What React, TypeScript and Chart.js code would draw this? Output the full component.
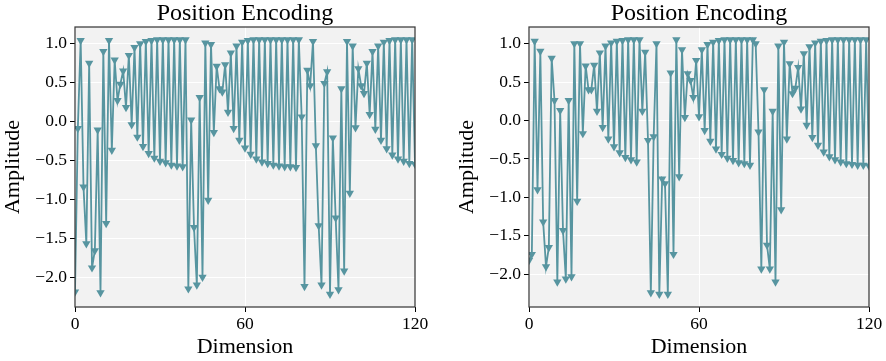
import React, { useEffect, useRef } from 'react';
import { Chart, registerables } from 'chart.js';

Chart.register(...registerables);

// ---------------- data ----------------
const dims: number[] = Array.from({ length: 121 }, (_, i) => i);

const leftAmplitude: number[] = [
  -2.19, -0.09, 1.04, -0.84, -1.57, 0.75, -1.88, -1.66, -0.11, -2.20,
  0.90, -1.31, 1.04, -0.37, 0.79, 0.27, 0.48, 0.65, 0.18, 0.85,
  -0.04, 0.95, -0.20, 1.00, -0.32, 1.03, -0.41, 1.04, -0.47, 1.05,
  -0.51, 1.05, -0.53, 1.05, -0.56, 1.05, -0.57, 1.05, -0.58, 1.05,
  -2.15, 0.02, -1.36, -2.10, 0.31, -2.00, 1.01, -1.01, 0.99, -0.14,
  0.71, 0.42, 0.38, 0.73, 0.12, 0.88, -0.09, 0.97, -0.24, 1.02,
  -0.34, 1.04, -0.42, 1.05, -0.48, 1.05, -0.52, 1.05, -0.54, 1.05,
  -0.56, 1.05, -0.57, 1.05, -0.58, 1.05, -0.58, 1.05, -0.59, 1.05,
  0.06, -2.12, 0.66, 0.46, 1.03, -0.31, -1.34, -2.10, 0.49, 0.64,
  -2.22, -0.21, -1.24, -2.16, 0.42, -1.92, 1.03, -0.92, 0.97, -0.08,
  0.68, 0.46, 0.36, 0.75, 0.09, 0.90, -0.10, 0.97, -0.24, 1.02,
  -0.35, 1.04, -0.43, 1.05, -0.48, 1.05, -0.51, 1.05, -0.54, 1.05,
  -0.55,
];

const rightAmplitude: number[] = [
  -1.82, -1.74, 1.03, -0.90, 0.90, -1.32, -1.90, -1.65, 0.81, 0.26,
  -2.10, 0.13, -1.43, -2.06, 0.26, -2.03, 1.00, -1.05, 1.00, -0.17,
  0.71, 0.40, 0.40, 0.72, 0.12, 0.88, -0.09, 0.97, -0.24, 1.01,
  -0.34, 1.03, -0.42, 1.04, -0.48, 1.05, -0.51, 1.05, -0.54, 1.05,
  0.12, 0.89, -0.26, -2.24, -0.21, 1.00, -2.26, -0.76, -0.82, -2.26,
  0.62, -1.74, 1.05, -0.73, 0.92, 0.04, 0.61, 0.52, 0.30, 0.78,
  0.05, 0.92, -0.13, 0.99, -0.27, 1.02, -0.37, 1.04, -0.44, 1.05,
  -0.49, 1.05, -0.52, 1.05, -0.55, 1.05, -0.56, 1.05, -0.58, 1.05,
  1.00, -0.15, -1.93, 0.40, -1.62, -1.93, 0.12, -2.10, 0.97, -1.16,
  1.02, -0.24, 0.74, 0.35, 0.42, 0.69, 0.15, 0.87, -0.06, 0.96,
  -0.22, 1.01, -0.32, 1.03, -0.41, 1.04, -0.47, 1.05, -0.51, 1.05,
  -0.54, 1.05, -0.56, 1.05, -0.57, 1.05, -0.58, 1.05, -0.58, 1.05,
  -0.59,
];

const yTickValues: number[] = [1.0, 0.5, 0.0, -0.5, -1.0, -1.5, -2.0];
const xTickValues: number[] = [0, 60, 120];

const titleText = 'Position Encoding';
const xLabel = 'Dimension';
const yLabel = 'Amplitude';

// ---------------- style ----------------
const SERIF = "'Liberation Serif', 'Times New Roman', serif";
const LINE_COLOR = '#5795a0';
const PLOT_BG = '#f2f2f2';
const FRAME_COLOR = '#3a3a3a';

function fmtY(v: number): string {
  const s = Math.abs(v).toFixed(1);
  return v < -1e-9 ? '\u2212' + s : s;
}

const panelPlugin = {
  id: 'panel',
  beforeDraw(chart: any) {
    const { ctx, chartArea } = chart;
    ctx.save();
    ctx.fillStyle = PLOT_BG;
    ctx.fillRect(chartArea.left, chartArea.top, chartArea.right - chartArea.left, chartArea.bottom - chartArea.top);
    ctx.restore();
  },
  afterDatasetsDraw(chart: any) {
    const { ctx, chartArea } = chart;
    ctx.save();
    ctx.strokeStyle = FRAME_COLOR;
    ctx.lineWidth = 1.25;
    ctx.strokeRect(chartArea.left, chartArea.top, chartArea.right - chartArea.left, chartArea.bottom - chartArea.top);
    ctx.restore();
  },
};

function Panel({ values, left, padLeft, padRight }: { values: number[]; left: number; padLeft: number; padRight: number }) {
  const ref = useRef<HTMLCanvasElement | null>(null);

  useEffect(() => {
    if (!ref.current) return;
    const lo = Math.min(...values);
    const hi = Math.max(...values);
    const m = (hi - lo) * 0.05;
    const chart = new Chart(ref.current, {
      type: 'line',
      data: {
        datasets: [
          {
            data: dims.map((d, i) => ({ x: d, y: values[i] })),
            borderColor: LINE_COLOR,
            backgroundColor: LINE_COLOR,
            borderWidth: 1.8,
            pointStyle: 'triangle',
            pointRotation: 180,
            pointRadius: 4.8,
            pointHoverRadius: 4.8,
            pointBackgroundColor: LINE_COLOR,
            pointBorderColor: LINE_COLOR,
            pointBorderWidth: 0,
            tension: 0,
            fill: false,
            clip: 0,
          } as any,
        ],
      },
      options: {
        animation: false,
        responsive: false,
        devicePixelRatio: 1,
        events: [],
        layout: { padding: { left: padLeft, right: padRight, top: 0, bottom: 0 } },
        plugins: {
          legend: { display: false },
          tooltip: { enabled: false },
          title: {
            display: true,
            text: titleText,
            fullSize: false,
            color: '#000',
            font: { family: SERIF, size: 24, weight: 'normal', lineHeight: 1.0 },
            padding: { top: 2, bottom: 1 },
          },
        },
        scales: {
          x: {
            type: 'linear',
            min: 0,
            max: 120,
            afterBuildTicks: (s: any) => {
              s.ticks = xTickValues.map((v) => ({ value: v }));
            },
            afterFit: (s: any) => {
              s.height = 54;
            },
            grid: { color: '#ffffff', lineWidth: 1, tickColor: '#000', tickLength: 5, drawTicks: true },
            border: { display: false },
            ticks: {
              color: '#000',
              font: { family: SERIF, size: 17.5 },
              padding: 2,
              maxRotation: 0,
              autoSkip: false,
              callback: (v: any) => String(v),
            },
            title: {
              display: true,
              text: xLabel,
              color: '#000',
              font: { family: SERIF, size: 22, lineHeight: 1.2 },
              padding: { top: 0, bottom: 1 },
            },
          },
          y: {
            type: 'linear',
            min: lo - m,
            max: hi + m,
            afterBuildTicks: (s: any) => {
              s.ticks = yTickValues.map((v) => ({ value: v }));
            },
            afterFit: (s: any) => {
              s.width = 75;
            },
            grid: { color: '#ffffff', lineWidth: 1, tickColor: '#000', tickLength: 5, drawTicks: true },
            border: { display: false },
            ticks: {
              color: '#000',
              font: { family: SERIF, size: 17.5 },
              padding: 3,
              autoSkip: false,
              callback: (v: any) => fmtY(Number(v)),
            },
            title: {
              display: true,
              text: yLabel,
              color: '#000',
              font: { family: SERIF, size: 22, lineHeight: 1.2 },
              padding: { top: 0, bottom: 0 },
            },
          },
        },
      } as any,
      plugins: [panelPlugin],
    });
    return () => chart.destroy();
  }, [values, padLeft, padRight]);

  return (
    <canvas
      ref={ref}
      width={443}
      height={361}
      style={{ position: 'absolute', left, top: 0, width: 443, height: 361 }}
    />
  );
}

export default function App() {
  return (
    <div style={{ position: 'absolute', left: 0, top: 0, width: 886, height: 361, background: '#fff' }}>
      <Panel values={leftAmplitude} left={0} padLeft={0} padRight={28} />
      <Panel values={rightAmplitude} left={443} padLeft={11} padRight={17} />
    </div>
  );
}
